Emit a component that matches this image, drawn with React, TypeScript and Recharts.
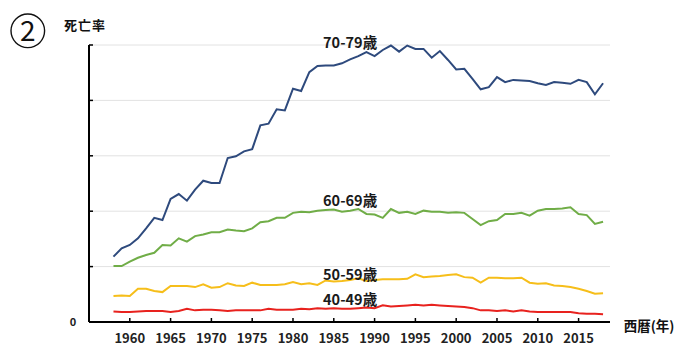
import React from 'react';
import { LineChart, Line, XAxis, YAxis, CartesianGrid, ReferenceDot } from 'recharts';

const years = [
  1958, 1959, 1960, 1961, 1962, 1963, 1964, 1965, 1966, 1967,
  1968, 1969, 1970, 1971, 1972, 1973, 1974, 1975, 1976, 1977,
  1978, 1979, 1980, 1981, 1982, 1983, 1984, 1985, 1986, 1987,
  1988, 1989, 1990, 1991, 1992, 1993, 1994, 1995, 1996, 1997,
  1998, 1999, 2000, 2001, 2002, 2003, 2004, 2005, 2006, 2007,
  2008, 2009, 2010, 2011, 2012, 2013, 2014, 2015, 2016, 2017,
  2018,
];

const rate70s = [
  1.18, 1.33, 1.39, 1.51, 1.69, 1.88, 1.84, 2.22, 2.31, 2.19,
  2.39, 2.55, 2.51, 2.51, 2.96, 2.99, 3.08, 3.12, 3.55, 3.58,
  3.84, 3.82, 4.21, 4.17, 4.51, 4.62, 4.63, 4.63, 4.67, 4.74,
  4.8, 4.87, 4.8, 4.91, 4.99, 4.88, 4.99, 4.93, 4.93, 4.77,
  4.89, 4.73, 4.56, 4.57, 4.39, 4.2, 4.24, 4.42, 4.33, 4.37,
  4.36, 4.35, 4.31, 4.28, 4.33, 4.32, 4.3, 4.37, 4.33, 4.11,
  4.31,
];

const rate60s = [
  1.01, 1.01, 1.09, 1.16, 1.21, 1.25, 1.39, 1.38, 1.51, 1.45,
  1.55, 1.58, 1.62, 1.62, 1.67, 1.65, 1.64, 1.69, 1.8, 1.82,
  1.88, 1.88, 1.97, 1.99, 1.98, 2.01, 2.02, 2.03, 1.99, 2.01,
  2.04, 1.95, 1.94, 1.88, 2.04, 1.97, 1.99, 1.95, 2.01, 1.99,
  1.99, 1.97, 1.98, 1.97, 1.86, 1.75, 1.82, 1.84, 1.95, 1.95,
  1.97, 1.92, 2.01, 2.04, 2.04, 2.05, 2.07, 1.95, 1.93, 1.77,
  1.81,
];

const rate50s = [
  0.47, 0.48, 0.47, 0.6, 0.6, 0.56, 0.54, 0.65, 0.65, 0.65,
  0.63, 0.68, 0.62, 0.63, 0.7, 0.66, 0.65, 0.71, 0.67, 0.67,
  0.67, 0.68, 0.72, 0.68, 0.7, 0.67, 0.75, 0.73, 0.74, 0.76,
  0.79, 0.74, 0.76, 0.77, 0.77, 0.77, 0.78, 0.86, 0.81, 0.82,
  0.83, 0.85, 0.86, 0.81, 0.8, 0.71, 0.8, 0.8, 0.79, 0.79,
  0.8, 0.71, 0.69, 0.7, 0.66, 0.65, 0.63, 0.6, 0.56, 0.51,
  0.52,
];

const rate40s = [
  0.19, 0.18, 0.18, 0.19, 0.2, 0.2, 0.2, 0.18, 0.2, 0.24,
  0.21, 0.22, 0.22, 0.21, 0.2, 0.21, 0.21, 0.21, 0.21, 0.24,
  0.22, 0.22, 0.22, 0.24, 0.23, 0.25, 0.24, 0.25, 0.24, 0.24,
  0.25, 0.26, 0.25, 0.3, 0.28, 0.29, 0.3, 0.31, 0.3, 0.31,
  0.3, 0.29, 0.28, 0.27, 0.25, 0.21, 0.21, 0.2, 0.21, 0.19,
  0.21, 0.19, 0.18, 0.18, 0.18, 0.18, 0.18, 0.16, 0.15, 0.15,
  0.14,
];

const xTicks = [1960, 1965, 1970, 1975, 1980, 1985, 1990, 1995, 2000, 2005, 2010, 2015];
const yTicks = [0, 1, 2, 3, 4, 5];

const seriesLabels = [
  { text: '70-79歳', year: 1987, value: 5.03 },
  { text: '60-69歳', year: 1987, value: 2.19 },
  { text: '50-59歳', year: 1987, value: 0.86 },
  { text: '40-49歳', year: 1987, value: 0.395 },
];

const data = years.map((year, i) => ({
  year,
  a70: rate70s[i],
  a60: rate60s[i],
  a50: rate50s[i],
  a40: rate40s[i],
}));

const FONT = '"Noto Sans CJK JP", "Noto Sans", sans-serif';

const XTick = (props: any) => {
  const { x, y, payload } = props;
  return (
    <g>
      <line x1={x} y1={y} x2={x} y2={y - 4} stroke="#000" strokeWidth={1.5} />
      <text
        x={x}
        y={y + 21}
        textAnchor="middle"
        fontSize={13}
        fontWeight="bold"
        fontFamily={FONT}
        fill="#222"
      >
        {payload.value}
      </text>
    </g>
  );
};

const YTick = (props: any) => {
  const { x, y, payload } = props;
  return (
    <g>
      <line x1={x} y1={y} x2={x + 4} y2={y} stroke="#000" strokeWidth={1.5} />
      {payload.value === 0 ? (
        <text
          x={x - 16}
          y={y + 4}
          textAnchor="middle"
          fontSize={11}
          fontWeight="bold"
          fontFamily={FONT}
          fill="#222"
        >
          0
        </text>
      ) : null}
    </g>
  );
};

export default function App() {
  return (
    <div style={{ position: 'absolute', left: 0, top: 0, width: 697, height: 359, background: '#fff' }}>
      <LineChart
        width={697}
        height={359}
        data={data}
        margin={{ top: 45, right: 87, left: 88, bottom: 36 }}
      >
        <CartesianGrid horizontal vertical={false} stroke="#e2e2e2" strokeWidth={1} />
        <XAxis
          dataKey="year"
          type="number"
          domain={[1955, 2018.85]}
          ticks={xTicks}
          height={1}
          tickSize={0}
          tickMargin={0}
          tickLine={false}
          tick={<XTick />}
          axisLine={{ stroke: '#000', strokeWidth: 2 }}
          interval={0}
        />
        <YAxis
          type="number"
          domain={[0, 5]}
          ticks={yTicks}
          width={1}
          tickSize={0}
          tickMargin={0}
          tickLine={false}
          tick={<YTick />}
          axisLine={{ stroke: '#000', strokeWidth: 2 }}
          interval={0}
        />
        <Line type="linear" dataKey="a40" stroke="#E8221E" strokeWidth={2} dot={false} isAnimationActive={false} />
        <Line type="linear" dataKey="a50" stroke="#F6BE1A" strokeWidth={2} dot={false} isAnimationActive={false} />
        <Line type="linear" dataKey="a60" stroke="#70AD47" strokeWidth={2} dot={false} isAnimationActive={false} />
        <Line type="linear" dataKey="a70" stroke="#2E4A7D" strokeWidth={2} dot={false} isAnimationActive={false} />
        {seriesLabels.map((l) => (
          <ReferenceDot
            key={l.text}
            x={l.year}
            y={l.value}
            r={0}
            fill="none"
            stroke="none"
            ifOverflow="visible"
            label={{
              value: l.text,
              position: 'center',
              fontSize: 14.5,
              fontWeight: 'bold',
              fontFamily: FONT,
              fill: '#1a1a1a',
            }}
          />
        ))}
      </LineChart>
      <svg
        width={697}
        height={359}
        style={{ position: 'absolute', left: 0, top: 0, pointerEvents: 'none' }}
      >
        <circle cx={27.8} cy={30.8} r={16.8} fill="none" stroke="#111" strokeWidth={1.4} />
        <text x={27.8} y={40.8} textAnchor="middle" fontSize={28} fontFamily={FONT} fill="#111">
          2
        </text>
        <text x={85} y={30} textAnchor="middle" fontSize={13} fontWeight="bold" fontFamily={FONT} fill="#111" letterSpacing={1}>
          死亡率
        </text>
        <text x={649} y={330.5} textAnchor="middle" fontSize={13.5} fontWeight="bold" fontFamily={FONT} fill="#111">
          西暦(年)
        </text>
      </svg>
    </div>
  );
}
